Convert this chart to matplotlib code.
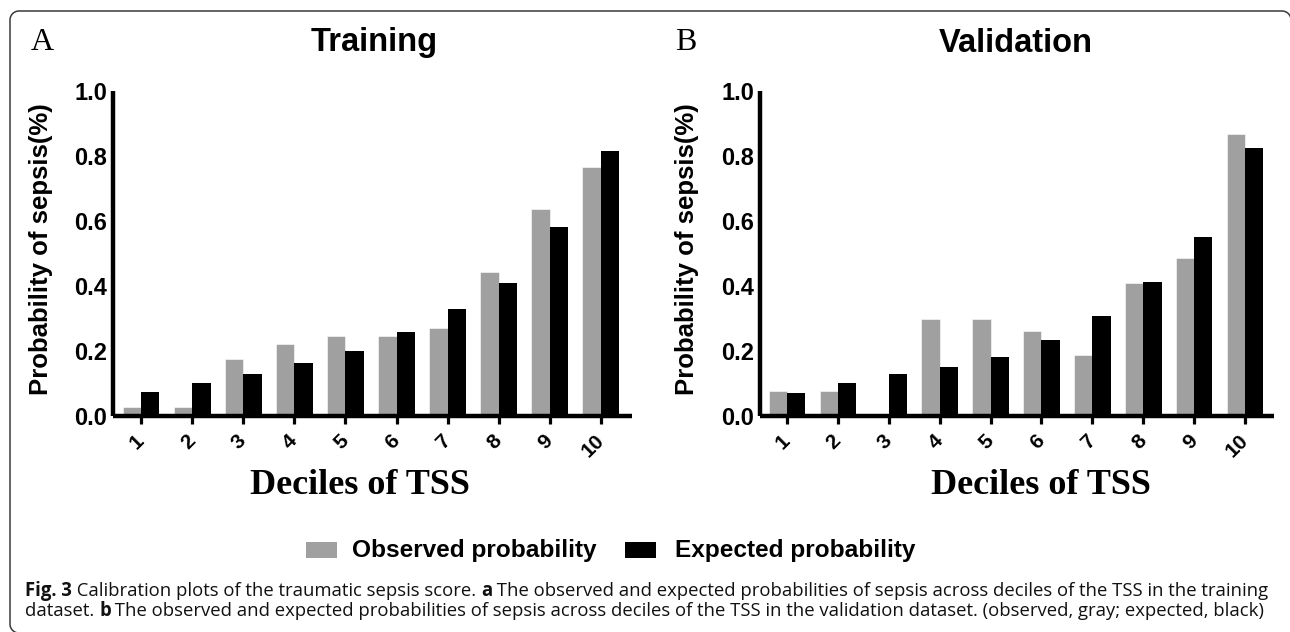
import numpy as np
import matplotlib
matplotlib.use("Agg")
import matplotlib.pyplot as plt
from matplotlib.lines import Line2D
from matplotlib.patches import Rectangle

# ---------------- data ----------------
deciles = ["1", "2", "3", "4", "5", "6", "7", "8", "9", "10"]
train_observed = [0.029, 0.029, 0.174, 0.223, 0.246, 0.246, 0.270, 0.442, 0.638, 0.767]
train_expected = [0.073, 0.102, 0.129, 0.162, 0.199, 0.258, 0.329, 0.409, 0.583, 0.816]
valid_observed = [0.077, 0.077, 0.0, 0.298, 0.298, 0.262, 0.187, 0.409, 0.485, 0.867]
valid_expected = [0.072, 0.103, 0.129, 0.152, 0.183, 0.234, 0.308, 0.413, 0.551, 0.825]
y_ticks = [0.0, 0.2, 0.4, 0.6, 0.8, 1.0]
panel_titles = ["Training", "Validation"]
panel_letters = ["A", "B"]
series_names = ["Observed probability", "Expected probability"]
x_title = "Deciles of TSS"
y_title = "Probability of sepsis(%)"

W, H = 1290, 632
GRAY = "#a0a0a0"
BLACK = "#000000"
SANS = ["Liberation Sans", "DejaVu Sans"]
SERIF = ["Liberation Serif", "DejaVu Serif"]

fig = plt.figure(figsize=(W / 100, H / 100), dpi=100)
fig.patch.set_facecolor("white")


def fx(px):
    return px / W


def fy(py):
    return 1 - py / H


def make_panel(x0, x1, obs, exp, title, letter, title_cx, letter_cx, ylab_cx, xlab_cx,
               xlim):
    top, bottom = 91, 416
    ax = fig.add_axes([fx(x0), fy(bottom), fx(x1 - x0), (bottom - top) / H])
    pos = np.arange(1, len(deciles) + 1)
    bw = 0.36
    ax.bar(pos - bw / 2, obs, width=bw, color=GRAY, edgecolor="white", linewidth=0.4)
    ax.bar(pos + bw / 2, exp, width=bw, color=BLACK, edgecolor="none", linewidth=0)
    ax.set_xlim(*xlim)
    ax.set_ylim(0, 1.0)
    ax.set_yticks(y_ticks)
    ax.set_yticklabels([f"{v:.1f}" for v in y_ticks], fontsize=17, fontweight="bold",
                       family=SANS)
    ax.set_xticks(pos)
    ax.set_xticklabels(deciles, fontsize=15, fontweight="bold", family=SANS,
                       rotation=45, ha="right", va="center", rotation_mode="anchor")
    for s in ["top", "right"]:
        ax.spines[s].set_visible(False)
    for s in ["left", "bottom"]:
        ax.spines[s].set_linewidth(3.2)
        ax.spines[s].set_capstyle("butt")
    ax.tick_params(axis="y", length=0, pad=4)
    ax.tick_params(axis="x", length=5.5, width=2.3, direction="out", pad=10)
    ax.set_facecolor("white")
    fig.text(fx(title_cx), fy(43), title, fontsize=23.5, fontweight="bold", family=SANS,
             ha="center", va="center")
    fig.text(fx(letter_cx), fy(43), letter, fontsize=23, family=SERIF,
             ha="center", va="center")
    fig.text(fx(ylab_cx), fy(249), y_title, fontsize=18.5, fontweight="bold", family=SANS,
             rotation=90, ha="center", va="center")
    fig.text(fx(xlab_cx), fy(486), x_title, fontsize=26, fontweight="bold", family=SERIF,
             ha="center", va="center")
    return ax


make_panel(113, 632, train_observed, train_expected, panel_titles[0], panel_letters[0],
           374, 42, 41, 360, (0.45, 10.61))
make_panel(760, 1274, valid_observed, valid_expected, panel_titles[1], panel_letters[1],
           1016, 686, 687, 1041, (0.47, 10.57))

# ---------------- legend ----------------
leg_items = [(306, GRAY, series_names[0], 352), (625, BLACK, series_names[1], 675)]
for x_sq, col, name, x_txt in leg_items:
    fig.add_artist(Rectangle((fx(x_sq), fy(558)), fx(31), 16 / H, transform=fig.transFigure,
                             facecolor=col, edgecolor="none"))
    fig.text(fx(x_txt), fy(550), name, fontsize=17.6, fontweight="bold", family=SANS,
             ha="left", va="center")

# ---------------- caption ----------------
CAP = ["Open Sans", "DejaVu Sans"]
line1 = [("Fig. 3", "bold"), (" Calibration plots of the traumatic sepsis score. ", "normal"),
         ("a", "bold"),
         (" The observed and expected probabilities of sepsis across deciles of the TSS in the training",
          "normal")]
line2 = [("dataset. ", "normal"), ("b", "bold"),
         (" The observed and expected probabilities of sepsis across deciles of the TSS in the validation dataset. (observed, gray; expected, black)",
          "normal")]

renderer = fig.canvas.get_renderer()


def run_width(txt, weight, size):
    t1 = fig.text(0, 0, "x" + txt + "x", fontsize=size, fontweight=weight, family=CAP)
    t2 = fig.text(0, 0, "xx", fontsize=size, fontweight=weight, family=CAP)
    w = t1.get_window_extent(renderer).width - t2.get_window_extent(renderer).width
    t1.remove()
    t2.remove()
    return w


def line_width(runs, size):
    return sum(run_width(t, w, size) for t, w in runs)


base = 11.0
target = 1272 - 25
size = base * target / line_width(line1, base)


def draw_line(runs, x0, ybase, size):
    x = x0
    for txt, weight in runs:
        fig.text(fx(x), fy(ybase), txt, fontsize=size, fontweight=weight, family=CAP,
                 ha="left", va="baseline", color="#111111")
        x += run_width(txt, weight, size)


draw_line(line1, 25, 596, size)
draw_line(line2, 25, 616, size)

# ---------------- border ----------------
r = 9
x0b, x1b, y0b, y1b = 10, 1291, 11, 633
ang = np.linspace(0, np.pi / 2, 20)
pts = []
pts += [(x0b + r - r * np.cos(a), y1b - r + r * np.sin(a)) for a in ang[::-1]]
pts += [(x0b + r - r * np.cos(a), y0b + r - r * np.sin(a)) for a in ang]
pts += [(x1b - r + r * np.sin(a), y0b + r - r * np.cos(a)) for a in ang]
pts += [(x1b, y1b - r)]
xs = [fx(p[0]) for p in pts]
ys = [fy(p[1]) for p in pts]
fig.add_artist(Line2D(xs, ys, transform=fig.transFigure, color="#3a3a3a", linewidth=1.1))

fig.savefig("out.png", dpi=100, facecolor="white")
